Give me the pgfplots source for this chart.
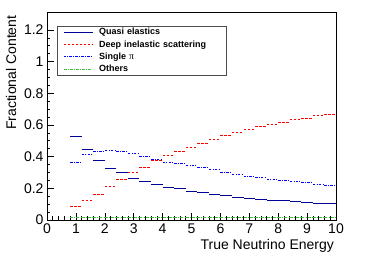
\documentclass[border=0pt]{standalone}
\usepackage{pgfplots}
\pgfplotsset{compat=1.18}
\usepackage{fontspec}
\setmainfont{Liberation Sans}
\newfontfamily\pifont{Liberation Serif}
\definecolor{qecol}{RGB}{0,0,150}
\definecolor{discol}{RGB}{255,0,0}
\definecolor{picol}{RGB}{0,0,255}
\definecolor{othcol}{RGB}{60,190,60}
\pgfplotstableread{
x y
0.8 0.530
1.2 0.447
1.6 0.375
2.0 0.324
2.4 0.297
2.8 0.265
3.2 0.246
3.6 0.221
4.0 0.206
4.4 0.196
4.8 0.181
5.2 0.173
5.6 0.164
6.0 0.152
6.4 0.143
6.8 0.137
7.2 0.131
7.6 0.124
8.0 0.120
8.4 0.114
8.8 0.110
9.2 0.106
9.6 0.101
10.0 0.101
}\qetab
\pgfplotstableread{
x y
0.8 0.084
1.2 0.122
1.6 0.164
2.0 0.210
2.4 0.253
2.8 0.299
3.2 0.333
3.6 0.373
4.0 0.409
4.4 0.431
4.8 0.459
5.2 0.486
5.6 0.510
6.0 0.533
6.4 0.552
6.8 0.573
7.2 0.590
7.6 0.600
8.0 0.617
8.4 0.632
8.8 0.638
9.2 0.657
9.6 0.665
10.0 0.665
}\distab
\pgfplotstableread{
x y
0.8 0.362
1.2 0.415
1.6 0.434
2.0 0.442
2.4 0.430
2.8 0.419
3.2 0.404
3.6 0.385
4.0 0.364
4.4 0.354
4.8 0.343
5.2 0.330
5.6 0.318
6.0 0.299
6.4 0.289
6.8 0.276
7.2 0.267
7.6 0.259
8.0 0.251
8.4 0.242
8.8 0.234
9.2 0.223
9.6 0.215
10.0 0.215
}\pitab
\pgfplotstableread{
x y
0.8 0.017
1.2 0.017
1.6 0.017
2.0 0.017
2.4 0.017
2.8 0.017
3.2 0.017
3.6 0.017
4.0 0.017
4.4 0.017
4.8 0.017
5.2 0.017
5.6 0.017
6.0 0.017
6.4 0.017
6.8 0.017
7.2 0.017
7.6 0.017
8.0 0.017
8.4 0.017
8.8 0.017
9.2 0.017
9.6 0.017
10.0 0.017
}\othtab
\begin{document}
\begin{tikzpicture}
\path[use as bounding box] (-47pt,-33pt) rectangle (327pt,220pt);
\begin{axis}[
  scale only axis, width=289pt, height=208pt,
  xmin=0, xmax=10, ymin=0, ymax=1.313,
  xtick={0,1,2,3,4,5,6,7,8,9,10},
  ytick={0,0.2,0.4,0.6,0.8,1,1.2},
  minor x tick num=4, minor y tick num=3,
  tick align=inside, xtick pos=bottom, ytick pos=left,
  major tick length=7pt, minor tick length=3.5pt,
  tick style={black, line width=0.6pt},
  axis line style={black, line width=0.8pt},
  ticklabel style={font=\fontsize{14}{16}\selectfont},
  /pgf/number format/assume math mode=true,
  xlabel={True Neutrino Energy}, ylabel={Fractional Content},
  label style={font=\fontsize{14}{16}\selectfont},
  xlabel style={at={(axis description cs:1.005,-0.144)}, anchor=base east},
  ylabel style={at={(axis description cs:-0.107,1)}, anchor=base east},
  legend cell align=left,
  legend image code/.code={\draw[#1] (0pt,0pt) -- (29pt,0pt);},
  legend style={at={(axis description cs:0.0336,0.933)}, anchor=north west,
    draw=black!70, line width=0.6pt, fill=white,
    font=\bfseries\fontsize{9}{10}\selectfont,
    inner xsep=6pt, inner ysep=2pt, row sep=3.8pt,
    nodes={inner sep=0pt, text height=6.6pt, text depth=1.8pt},
    /tikz/every odd column/.append style={column sep=6pt},
    /tikz/every even column/.append style={text width=121pt}},
]
\addplot[qecol, line width=1.0pt, jump mark left] table[x=x,y=y] {\qetab};
\addlegendentry{Quasi elastics}
\addplot[discol, line width=0.9pt, dash pattern=on 2.5pt off 1.5pt, jump mark left] table[x=x,y=y] {\distab};
\addlegendentry{Deep inelastic scattering}
\addplot[picol, line width=0.9pt, dash pattern=on 2.5pt off 1.3pt on 0.8pt off 1.3pt, jump mark left] table[x=x,y=y] {\pitab};
\addlegendentry{Single {\pifont\mdseries\fontsize{10}{10}\selectfont π}}
\addplot[othcol, line width=1.0pt, dash pattern=on 3pt off 1.2pt on 0.8pt off 1.2pt, jump mark left] table[x=x,y=y] {\othtab};
\addlegendentry{Others}
\end{axis}
\end{tikzpicture}
\end{document}
